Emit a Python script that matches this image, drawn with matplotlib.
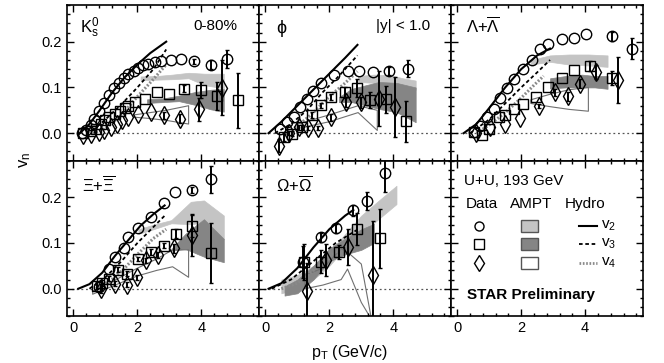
import matplotlib
matplotlib.use("Agg")
import matplotlib.pyplot as plt
from matplotlib.ticker import MultipleLocator, FormatStrFormatter
from matplotlib.patches import Rectangle
from matplotlib.lines import Line2D

plt.rcParams['font.family'] = ['Liberation Sans', 'DejaVu Sans']
plt.rcParams['mathtext.default'] = 'regular'

# ---------------- K0s ----------------
k0s_v2_pt = [0.27, 0.39, 0.54, 0.65, 0.8, 0.95, 1.11, 1.26, 1.42, 1.57, 1.72,
             1.88, 2.03, 2.18, 2.34, 2.54, 2.75, 3.06, 3.36, 3.77, 4.29, 4.8]
k0s_v2 = [0.0, 0.006, 0.017, 0.031, 0.048, 0.066, 0.083, 0.098, 0.11, 0.121,
          0.129, 0.137, 0.143, 0.148, 0.152, 0.155, 0.157, 0.161, 0.162, 0.157,
          0.15, 0.162]
k0s_v2_err = [0] * 19 + [0.005, 0.01, 0.02]
k0s_v3_pt = [0.3, 0.55, 0.7, 0.85, 1.0, 1.11, 1.3, 1.47, 1.6, 1.72, 1.93, 2.24,
             2.6, 3.0, 3.47, 3.98, 4.49, 5.16]
k0s_v3 = [0.0, 0.004, 0.01, 0.02, 0.028, 0.035, 0.042, 0.048, 0.054, 0.059,
          0.068, 0.075, 0.089, 0.086, 0.097, 0.094, 0.081, 0.072]
k0s_v3_err = [0] * 14 + [0.008, 0.018, 0.03, 0.06]
k0s_v4_pt = [0.3, 0.55, 0.8, 0.95, 1.16, 1.35, 1.52, 1.72, 2.03, 2.44, 2.83,
             3.34, 3.93, 4.65]
k0s_v4 = [-0.003, -0.002, 0.003, 0.006, 0.013, 0.02, 0.028, 0.035, 0.042,
          0.046, 0.039, 0.032, 0.052, 0.099]
k0s_v4_err = [0] * 10 + [0.008, 0.01, 0.025, 0.06]
k0s_hyd_v2_pt = [0.2, 0.5, 0.8, 1.2, 1.6, 2.0, 2.4, 2.9]
k0s_hyd_v2 = [0.0, 0.02, 0.048, 0.088, 0.122, 0.15, 0.175, 0.2]
k0s_hyd_v3_pt = [0.4, 0.7, 1.0, 1.5, 2.0, 2.5, 2.9]
k0s_hyd_v3 = [0.0, 0.012, 0.03, 0.063, 0.1, 0.14, 0.183]
k0s_hyd_v4_pt = [0.6, 1.0, 1.5, 2.0, 2.5, 2.9]
k0s_hyd_v4 = [0.0, 0.01, 0.04, 0.08, 0.118, 0.15]
k0s_ampt_v2_pt = [2.1, 2.6, 3.1, 3.6, 4.1, 4.7]
k0s_ampt_v2_lo = [0.116, 0.117, 0.118, 0.12, 0.105, 0.098]
k0s_ampt_v2_hi = [0.124, 0.125, 0.128, 0.132, 0.13, 0.13]
k0s_ampt_v3_pt = [2.3, 2.8, 3.3, 3.8, 4.3, 4.7]
k0s_ampt_v3_lo = [0.066, 0.068, 0.07, 0.062, 0.052, 0.047]
k0s_ampt_v3_hi = [0.074, 0.076, 0.082, 0.09, 0.095, 0.097]
k0s_ampt_v4_pt = [1.9, 2.4, 2.9, 3.6]
k0s_ampt_v4_lo = [0.035, 0.032, 0.028, 0.02]
k0s_ampt_v4_hi = [0.04, 0.045, 0.05, 0.06]

# ---------------- phi ----------------
phi_v2_pt = [0.47, 0.68, 0.88, 1.09, 1.29, 1.5, 1.75, 2.16, 2.57, 2.93, 3.37,
             3.86, 4.47]
phi_v2 = [0.01, 0.024, 0.035, 0.057, 0.074, 0.093, 0.11, 0.128, 0.136, 0.136,
          0.133, 0.136, 0.141]
phi_v2_err = [0] * 11 + [0.008, 0.018]
phi_v3_pt = [0.57, 0.83, 1.14, 1.45, 1.73, 2.06, 2.5, 2.88, 3.27, 3.76, 4.4]
phi_v3 = [-0.009, -0.001, 0.013, 0.04, 0.061, 0.079, 0.089, 0.099, 0.073,
          0.074, 0.026]
phi_v3_err = [0.008, 0.005, 0.005, 0.006, 0.006, 0.006, 0.012, 0.02, 0.018,
              0.03, 0.045]
phi_v4_pt = [0.44, 0.75, 1.04, 1.34, 1.65, 2.06, 2.52, 2.98, 3.55, 4.06]
phi_v4 = [-0.027, 0.0, 0.013, 0.011, 0.011, 0.035, 0.068, 0.068, 0.075, 0.057]
phi_v4_err = [0.015, 0.005, 0.005, 0.005, 0.005, 0.008, 0.01, 0.012, 0.06,
              0.065]
phi_hyd_v2_pt = [0.1, 0.5, 1.0, 1.5, 2.0, 2.5, 2.88]
phi_hyd_v2 = [0.0, 0.025, 0.06, 0.095, 0.13, 0.165, 0.193]
phi_hyd_v3_pt = [0.3, 0.8, 1.3, 1.8, 2.3, 2.88]
phi_hyd_v3 = [0.0, 0.02, 0.05, 0.09, 0.125, 0.17]
phi_hyd_v4_pt = [0.6, 1.0, 1.5, 2.0, 2.5, 2.88]
phi_hyd_v4 = [0.0, 0.015, 0.045, 0.08, 0.11, 0.135]
phi_ampt_v2_pt = [2.9, 3.4, 3.9, 4.3, 4.7]
phi_ampt_v2_lo = [0.112, 0.11, 0.105, 0.1, 0.095]
phi_ampt_v2_hi = [0.125, 0.128, 0.127, 0.12, 0.115]
phi_ampt_v3_pt = [2.3, 2.7, 3.55, 4.1, 4.7]
phi_ampt_v3_lo = [0.068, 0.068, 0.053, 0.046, 0.024]
phi_ampt_v3_hi = [0.079, 0.097, 0.112, 0.11, 0.1]
phi_ampt_v4_pt = [1.0, 2.0, 2.9, 3.5]
phi_ampt_v4_lo = [0.01, 0.025, 0.045, 0.006]
phi_ampt_v4_hi = [0.02, 0.04, 0.06, 0.05]

# ---------------- Lambda ----------------
lam_v2_pt = [0.51, 0.72, 0.93, 1.14, 1.34, 1.55, 1.76, 2.05, 2.33, 2.59, 2.85,
             3.27, 3.64, 4.03, 4.83, 5.46]
lam_v2 = [0.002, 0.015, 0.035, 0.053, 0.077, 0.099, 0.119, 0.14, 0.16, 0.184,
          0.196, 0.206, 0.207, 0.216, 0.212, 0.185]
lam_v2_err = [0] * 14 + [0.01, 0.022]
lam_v3_pt = [0.51, 0.77, 1.0, 1.29, 1.5, 1.76, 2.05, 2.47, 2.85, 3.27, 3.66,
             4.14, 4.83]
lam_v3 = [0.002, -0.005, 0.01, 0.035, 0.04, 0.053, 0.064, 0.079, 0.101, 0.121,
          0.139, 0.147, 0.121]
lam_v3_err = [0] * 11 + [0.01, 0.015]
lam_v4_pt = [0.6, 1.03, 1.5, 1.97, 2.57, 3.06, 3.45, 3.84, 4.33, 5.04]
lam_v4 = [0.0, 0.013, 0.02, 0.033, 0.059, 0.089, 0.081, 0.108, 0.134, 0.116]
lam_v4_err = [0, 0, 0, 0, 0.005, 0.008, 0.01, 0.01, 0.015, 0.05]
lam_hyd_v2_pt = [0.2, 0.6, 1.0, 1.5, 2.0, 2.5, 2.9]
lam_hyd_v2 = [0.0, 0.02, 0.055, 0.1, 0.14, 0.17, 0.185]
lam_hyd_v3_pt = [0.4, 1.0, 1.5, 2.0, 2.5, 2.9]
lam_hyd_v3 = [0.0, 0.03, 0.065, 0.1, 0.133, 0.16]
lam_hyd_v4_pt = [0.6, 1.0, 1.5, 2.0, 2.4, 2.7]
lam_hyd_v4 = [0.0, 0.018, 0.045, 0.077, 0.105, 0.125]
lam_ampt_v2_pt = [2.3, 2.9, 3.5, 4.1, 4.7]
lam_ampt_v2_lo = [0.15, 0.156, 0.15, 0.148, 0.145]
lam_ampt_v2_hi = [0.16, 0.17, 0.172, 0.172, 0.17]
lam_ampt_v3_pt = [2.9, 3.4, 3.9, 4.3, 4.7]
lam_ampt_v3_lo = [0.098, 0.1, 0.1, 0.1, 0.097]
lam_ampt_v3_hi = [0.12, 0.125, 0.128, 0.125, 0.125]
lam_ampt_v4_pt = [2.3, 2.9, 3.5, 4.1]
lam_ampt_v4_lo = [0.065, 0.058, 0.052, 0.048]
lam_ampt_v4_hi = [0.073, 0.085, 0.095, 0.1]

# ---------------- Xi ----------------
xi_v2_pt = [0.8, 1.11, 1.31, 1.57, 1.72, 2.03, 2.44, 2.83, 3.18, 3.72, 4.31]
xi_v2 = [0.004, 0.043, 0.069, 0.088, 0.114, 0.133, 0.157, 0.187, 0.212, 0.216,
         0.239]
xi_v2_err = [0] * 9 + [0.006, 0.03]
xi_v3_pt = [0.75, 0.9, 1.11, 1.39, 1.67, 2.03, 2.44, 2.83, 3.21, 3.72, 4.31]
xi_v3 = [0.007, 0.012, 0.022, 0.042, 0.033, 0.065, 0.08, 0.094, 0.12, 0.138,
         0.078]
xi_v3_err = [0.008, 0.006, 0.005, 0.006, 0.006, 0.005, 0.006, 0.006, 0.01,
             0.025, 0.065]
xi_v4_pt = [0.85, 1.31, 1.67, 2.0, 2.26, 2.65, 3.14, 3.72]
xi_v4 = [0.0, 0.011, 0.009, 0.025, 0.062, 0.074, 0.088, 0.117]
xi_v4_err = [0.01, 0.005, 0.005, 0.005, 0.005, 0.006, 0.01, 0.045]
xi_hyd_v2_pt = [0.15, 0.5, 0.9, 1.3, 1.7, 2.1, 2.5, 2.85]
xi_hyd_v2 = [0.0, 0.01, 0.035, 0.072, 0.105, 0.138, 0.163, 0.182]
xi_hyd_v3_pt = [0.5, 1.0, 1.5, 2.0, 2.5, 2.9]
xi_hyd_v3 = [0.0, 0.025, 0.06, 0.1, 0.135, 0.163]
xi_hyd_v4_pt = [0.7, 1.2, 1.6, 2.0, 2.5, 2.9]
xi_hyd_v4 = [0.0, 0.02, 0.045, 0.075, 0.11, 0.13]
xi_ampt_v2_pt = [2.03, 2.5, 3.06, 3.67, 4.08, 4.7]
xi_ampt_v2_lo = [0.12, 0.13, 0.143, 0.141, 0.145, 0.108]
xi_ampt_v2_hi = [0.13, 0.14, 0.15, 0.19, 0.193, 0.16]
xi_ampt_v3_pt = [3.06, 3.5, 4.08, 4.7]
xi_ampt_v3_lo = [0.083, 0.087, 0.07, 0.058]
xi_ampt_v3_hi = [0.087, 0.12, 0.152, 0.109]
xi_ampt_v4_pt = [0.6, 1.2, 2.0, 2.6, 3.1, 3.6]
xi_ampt_v4_lo = [-0.012, 0.005, 0.028, 0.04, 0.048, 0.025]
xi_ampt_v4_hi = [-0.005, 0.015, 0.045, 0.065, 0.085, 0.085]

# ---------------- Omega ----------------
om_v2_pt = [1.19, 1.73, 2.22, 2.73, 3.19, 3.73]
om_v2 = [0.058, 0.112, 0.132, 0.172, 0.192, 0.252]
om_v2_err = [0.035, 0.01, 0.01, 0.012, 0.02, 0.04]
om_v3_pt = [1.21, 1.73, 2.29, 2.88, 3.58]
om_v3 = [0.058, 0.059, 0.081, 0.13, 0.11]
om_v3_err = [0.04, 0.025, 0.015, 0.035, 0.065]
om_v4_pt = [1.29, 1.91, 2.57, 3.37]
om_v4 = [-0.004, 0.062, 0.091, 0.029]
om_v4_err = [0.06, 0.035, 0.04, 0.12]
om_hyd_v2_pt = [0.1, 0.5, 1.0, 1.5, 2.0, 2.5, 2.75]
om_hyd_v2 = [0.0, 0.012, 0.045, 0.09, 0.13, 0.16, 0.172]
om_hyd_v3_pt = [0.2, 0.8, 1.5, 2.2, 2.9]
om_hyd_v3 = [0.0, 0.02, 0.06, 0.1, 0.13]
om_hyd_v4_pt = [0.5, 1.0, 1.5, 2.2, 2.9]
om_hyd_v4 = [0.0, 0.012, 0.04, 0.08, 0.12]
om_ampt_v2_pt = [0.5, 1.0, 1.5, 2.0, 2.5, 3.0, 3.5, 4.1]
om_ampt_v2_lo = [-0.01, 0.0, 0.02, 0.05, 0.09, 0.12, 0.15, 0.185]
om_ampt_v2_hi = [0.02, 0.03, 0.05, 0.08, 0.12, 0.16, 0.19, 0.225]
om_ampt_v3_pt = [0.6, 1.0, 1.5, 2.0, 2.5, 3.0, 3.4]
om_ampt_v3_lo = [-0.015, -0.01, 0.02, 0.06, 0.075, 0.085, 0.1]
om_ampt_v3_hi = [0.005, 0.02, 0.05, 0.088, 0.11, 0.13, 0.142]
om_ampt_v4_pt = [1.24, 1.8, 2.37, 2.57, 3.0, 3.3]
om_ampt_v4_lo = [0.0, 0.008, 0.02, 0.043, -0.03, -0.065]
om_ampt_v4_hi = [0.03, 0.045, 0.087, 0.08, 0.054, -0.06]

LIGHT = "#c4c4c4"
DARK = "#858585"


def draw_panel(ax, data, hydro, ampt):
    ax.axhline(0, color="#555555", ls=(0, (1.5, 2.2)), lw=0.9, zorder=0)
    # AMPT bands
    (p2, l2, h2), (p3, l3, h3), (p4, l4, h4) = ampt
    ax.fill_between(p2, l2, h2, facecolor=LIGHT, edgecolor=LIGHT, lw=0.5, zorder=1)
    ax.fill_between(p3, l3, h3, facecolor=DARK, edgecolor=DARK, lw=0.5, zorder=1.1)
    ax.fill_between(p4, l4, h4, facecolor="none", edgecolor="#707070", lw=0.8, zorder=1.2)
    # hydro
    (x2, y2), (x3, y3), (x4, y4) = hydro
    ax.plot(x2, y2, color="black", lw=1.5, zorder=2)
    ax.plot(x3, y3, color="black", lw=1.3, ls=(0, (2, 1.5)), zorder=2)
    ax.plot(x4, y4, color="#8a8a8a", lw=2.2, ls=(0, (0.6, 0.6)), zorder=2)
    # data
    markers = ["o", "s", "d"]
    sizes = [7.5, 7.5, 9.0]
    for (x, y, e), m, s in zip(data, markers, sizes):
        ex = [a for a, b in zip(x, e) if b > 0]
        ey = [a for a, b in zip(y, e) if b > 0]
        ee = [b for b in e if b > 0]
        if ex:
            ax.errorbar(ex, ey, yerr=ee, fmt="none", ecolor="black",
                        elinewidth=1.4, capsize=1.5, capthick=1.0, zorder=3)
        ax.plot(x, y, ls="none", marker=m, ms=s, mfc="none", mec="black",
                mew=1.0, zorder=3.1)


fig, axes = plt.subplots(2, 3, figsize=(6.64, 3.63), dpi=100,
                         sharex=True, sharey=True)
fig.subplots_adjust(left=0.101, right=0.968, top=0.986, bottom=0.129,
                    wspace=0, hspace=0)

panels = [
    ([(k0s_v2_pt, k0s_v2, k0s_v2_err), (k0s_v3_pt, k0s_v3, k0s_v3_err),
      (k0s_v4_pt, k0s_v4, k0s_v4_err)],
     [(k0s_hyd_v2_pt, k0s_hyd_v2), (k0s_hyd_v3_pt, k0s_hyd_v3),
      (k0s_hyd_v4_pt, k0s_hyd_v4)],
     [(k0s_ampt_v2_pt, k0s_ampt_v2_lo, k0s_ampt_v2_hi),
      (k0s_ampt_v3_pt, k0s_ampt_v3_lo, k0s_ampt_v3_hi),
      (k0s_ampt_v4_pt, k0s_ampt_v4_lo, k0s_ampt_v4_hi)]),
    ([(phi_v2_pt, phi_v2, phi_v2_err), (phi_v3_pt, phi_v3, phi_v3_err),
      (phi_v4_pt, phi_v4, phi_v4_err)],
     [(phi_hyd_v2_pt, phi_hyd_v2), (phi_hyd_v3_pt, phi_hyd_v3),
      (phi_hyd_v4_pt, phi_hyd_v4)],
     [(phi_ampt_v2_pt, phi_ampt_v2_lo, phi_ampt_v2_hi),
      (phi_ampt_v3_pt, phi_ampt_v3_lo, phi_ampt_v3_hi),
      (phi_ampt_v4_pt, phi_ampt_v4_lo, phi_ampt_v4_hi)]),
    ([(lam_v2_pt, lam_v2, lam_v2_err), (lam_v3_pt, lam_v3, lam_v3_err),
      (lam_v4_pt, lam_v4, lam_v4_err)],
     [(lam_hyd_v2_pt, lam_hyd_v2), (lam_hyd_v3_pt, lam_hyd_v3),
      (lam_hyd_v4_pt, lam_hyd_v4)],
     [(lam_ampt_v2_pt, lam_ampt_v2_lo, lam_ampt_v2_hi),
      (lam_ampt_v3_pt, lam_ampt_v3_lo, lam_ampt_v3_hi),
      (lam_ampt_v4_pt, lam_ampt_v4_lo, lam_ampt_v4_hi)]),
    ([(xi_v2_pt, xi_v2, xi_v2_err), (xi_v3_pt, xi_v3, xi_v3_err),
      (xi_v4_pt, xi_v4, xi_v4_err)],
     [(xi_hyd_v2_pt, xi_hyd_v2), (xi_hyd_v3_pt, xi_hyd_v3),
      (xi_hyd_v4_pt, xi_hyd_v4)],
     [(xi_ampt_v2_pt, xi_ampt_v2_lo, xi_ampt_v2_hi),
      (xi_ampt_v3_pt, xi_ampt_v3_lo, xi_ampt_v3_hi),
      (xi_ampt_v4_pt, xi_ampt_v4_lo, xi_ampt_v4_hi)]),
    ([(om_v2_pt, om_v2, om_v2_err), (om_v3_pt, om_v3, om_v3_err),
      (om_v4_pt, om_v4, om_v4_err)],
     [(om_hyd_v2_pt, om_hyd_v2), (om_hyd_v3_pt, om_hyd_v3),
      (om_hyd_v4_pt, om_hyd_v4)],
     [(om_ampt_v2_pt, om_ampt_v2_lo, om_ampt_v2_hi),
      (om_ampt_v3_pt, om_ampt_v3_lo, om_ampt_v3_hi),
      (om_ampt_v4_pt, om_ampt_v4_lo, om_ampt_v4_hi)]),
]

flat = axes.flatten()
for ax, (data, hydro, ampt) in zip(flat[:5], panels):
    draw_panel(ax, data, hydro, ampt)

for ax in flat:
    ax.set_xlim(-0.2, 5.8)
    ax.set_ylim(-0.06, 0.28)
    ax.xaxis.set_major_locator(MultipleLocator(2))
    ax.xaxis.set_minor_locator(MultipleLocator(0.4))
    ax.yaxis.set_major_locator(MultipleLocator(0.1))
    ax.yaxis.set_minor_locator(MultipleLocator(0.02))
    ax.xaxis.set_major_formatter(FormatStrFormatter("%d"))
    ax.yaxis.set_major_formatter(FormatStrFormatter("%.1f"))
    ax.tick_params(which="both", direction="in", top=True, right=True,
                   labelsize=10.5, width=1.0)
    ax.tick_params(which="major", length=5)
    ax.tick_params(which="minor", length=2.5)
    for sp in ax.spines.values():
        sp.set_linewidth(1.2)

# panel labels
flat[0].text(0.07, 0.93, r"K$^{0}_{s}$", transform=flat[0].transAxes,
             fontsize=12, va="top", ha="left")
flat[0].text(0.89, 0.91, "0-80%", transform=flat[0].transAxes,
             fontsize=11, va="top", ha="right")
flat[1].text(0.09, 0.92, r"$\phi$", transform=flat[1].transAxes,
             fontsize=13, va="top", ha="left", math_fontfamily="stix")
flat[1].text(0.89, 0.91, "|y| < 1.0", transform=flat[1].transAxes,
             fontsize=11, va="top", ha="right")
flat[2].text(0.08, 0.93, r"$\Lambda$+$\overline{\Lambda}$", transform=flat[2].transAxes,
             fontsize=12, va="top", ha="left", math_fontfamily="stix")
flat[3].text(0.08, 0.91, r"$\Xi$+$\overline{\Xi}$", transform=flat[3].transAxes,
             fontsize=12, va="top", ha="left", math_fontfamily="stix")
flat[4].text(0.09, 0.91, r"$\Omega$+$\overline{\Omega}$", transform=flat[4].transAxes,
             fontsize=12, va="top", ha="left", math_fontfamily="stix")

# legend panel
lg = flat[5]
T = lg.transAxes
lg.text(0.07, 0.866, "U+U, 193 GeV", transform=T, fontsize=11, va="center")
lg.text(0.08, 0.72, "Data", transform=T, fontsize=11, va="center")
lg.text(0.31, 0.72, "AMPT", transform=T, fontsize=11, va="center")
lg.text(0.595, 0.72, "Hydro", transform=T, fontsize=11, va="center")
rows = [0.58, 0.465, 0.344]
for y, m, s in zip(rows, ["o", "s", "d"], [6.5, 6.5, 8.5]):
    lg.add_line(Line2D([0.149], [y], transform=T, marker=m, ms=s, mfc="none",
                       mec="black", mew=1.0))
for y, fc in zip(rows, [LIGHT, DARK, "white"]):
    lg.add_patch(Rectangle((0.365, y - 0.038), 0.09, 0.076, transform=T,
                           facecolor=fc, edgecolor="#555555", lw=1.0))
for y, ls, c, lw in zip(rows, ["-", (0, (2, 1.5)), (0, (0.6, 0.6))],
                        ["black", "black", "#8a8a8a"], [1.5, 1.3, 2.0]):
    lg.add_line(Line2D([0.67, 0.76], [y, y], transform=T, color=c, ls=ls, lw=lw))
for y, n in zip(rows, ["2", "3", "4"]):
    lg.text(0.78, y, "v$_{%s}$" % n, transform=T, fontsize=11, va="center")
lg.text(0.085, 0.134, "STAR Preliminary", transform=T, fontsize=11,
        fontweight="bold", va="center")

fig.text(0.038, 0.56, "v$_n$", rotation=90, fontsize=12, va="center", ha="center")
fig.text(0.527, 0.03, "p$_T$ (GeV/c)", fontsize=11.5, va="center", ha="center")

fig.savefig("out.png", dpi=100)
